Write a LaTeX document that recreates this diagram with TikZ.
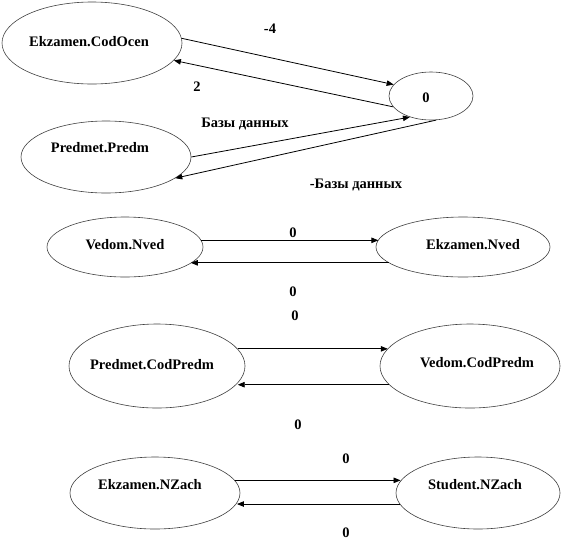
\documentclass[tikz,border=0pt]{standalone}
\usepackage{fontspec}
\setmainfont{Liberation Serif}[BoldFont={Liberation Serif Bold}]
\newfontfamily\tnr{Liberation Serif}[BoldFont={Liberation Serif Bold}]
\usetikzlibrary{shapes.geometric,arrows.meta}
\tikzset{
  ell/.style={ellipse,draw=black!75,line width=0.6pt,inner sep=0pt},
  lbl/.style={font=\tnr\fontsize{14.5}{16}\selectfont\bfseries,inner sep=0pt},
  arr/.style={draw=black,line width=0.8pt,-{Triangle[length=7pt,width=5.5pt]}}
}
\begin{document}
\begin{tikzpicture}[x=1pt,y=-1pt]
\useasboundingbox[fill=white] (0,0) rectangle (561,555);
% ellipses
\node[ell,minimum width=180,minimum height=82] (e1) at (92,43) {};
\node[ell,minimum width=84,minimum height=48] (z) at (431,96) {};
\node[ell,minimum width=170,minimum height=72] (p1) at (106,157) {};
\node[ell,minimum width=156,minimum height=60] (vn) at (125,247) {};
\node[ell,minimum width=174,minimum height=60] (en) at (463,247) {};
\node[ell,minimum width=176,minimum height=84] (pc) at (157,366) {};
\node[ell,minimum width=180,minimum height=84] (vc) at (470,366) {};
\node[ell,minimum width=170,minimum height=72] (ez) at (155,493) {};
\node[ell,minimum width=164,minimum height=72] (sz) at (478,493) {};
% ellipse texts
\node[lbl] (e1t) at (89,42) {Ekzamen.CodOcen};
\node[lbl] (zt) at (426,98) {0};
\node[lbl] (p1t) at (100,148) {Predmet.Predm};
\node[lbl] (vnt) at (125,245) {Vedom.Nved};
\node[lbl] (ent) at (473,245) {Ekzamen.Nved};
\node[lbl] (pct) at (152,365) {Predmet.CodPredm};
\node[lbl] (vct) at (477,363) {Vedom.CodPredm};
\node[lbl] (ezt) at (150,485) {Ekzamen.NZach};
\node[lbl] (szt) at (475,485) {Student.NZach};
% connectors
\draw[arr] (e1.3) -- (z.163);
\draw[arr] (z.196) -- (e1.-12);
\draw[arr] (p1.east) -- (z.225);
\draw[arr] (z.-78) -- (p1.-17);
\draw[arr] (vn.5) -- (en.175 |- vn.5);
\draw[arr] (en.192) -- (vn.-14 |- en.192);
\draw[arr] (pc.12) -- (vc.168 |- pc.12);
\draw[arr] (vc.193) -- (pc.-12.7 |- vc.193);
\draw[arr] (ez.9.5) -- (sz.171 |- ez.9.5);
\draw[arr] (sz.188.5) -- (ez.-7 |- sz.188.5);
% edge labels
\node[lbl] (l1) at (270,29) {-4};
\node[lbl] (l2) at (197,87) {2};
\node[lbl] (l3) at (245,124) {Базы данных};
\node[lbl] (l4) at (356,185) {-Базы данных};
\node[lbl] (l5) at (293,233) {0};
\node[lbl] (l6) at (293,292) {0};
\node[lbl] (l7) at (295,316) {0};
\node[lbl] (l8) at (298,425) {0};
\node[lbl] (l9) at (346,459) {0};
\node[lbl] (l10) at (346,533) {0};
\end{tikzpicture}
\end{document}
